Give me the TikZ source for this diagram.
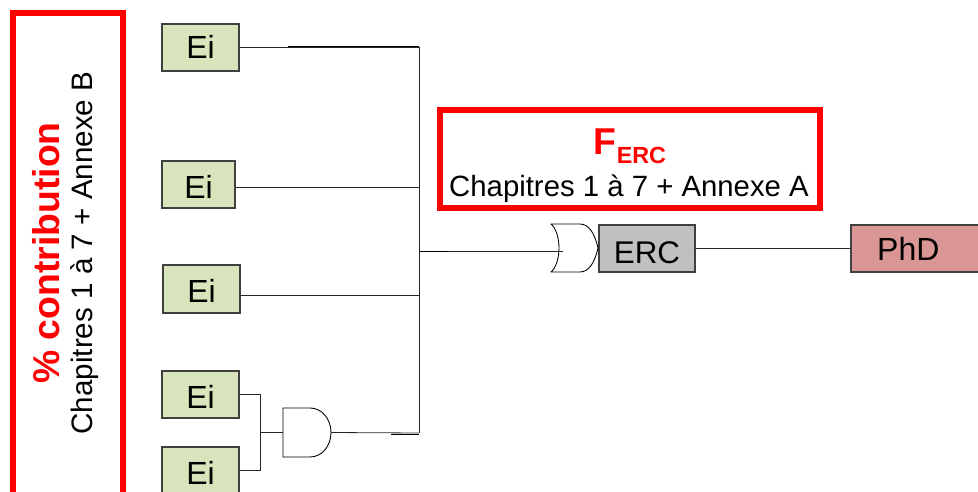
\documentclass[tikz,border=0pt]{standalone}
\usepackage{fontspec}
\setmainfont{Liberation Sans}
\tikzset{
  px/.style={x=0.75pt,y=-0.75pt},
  wire/.style={draw=black!85,line width=0.6pt},
  thickwire/.style={draw=black,line width=0.75pt},
  gate/.style={draw=black,line width=0.65pt,fill=white,line join=round},
  box/.style={draw=black!75,line width=0.8pt,inner sep=0pt,font=\fontsize{24}{28}\selectfont,text=black,anchor=center,text depth=0pt},
  ei/.style={box,fill=eigreen},
  redbox/.style={draw=red,line width=4.2pt,fill=white},
  lbl/.style={font=\fontsize{22}{26}\selectfont,inner sep=0pt,text=black},
  redlbl/.style={font=\fontsize{28}{32}\selectfont\bfseries,inner sep=0pt,text=red}
}
\definecolor{eigreen}{HTML}{D7E4BC}
\definecolor{ercgray}{HTML}{C0C0C0}
\definecolor{phdred}{HTML}{D99694}
\begin{document}
\begin{tikzpicture}[px]
\useasboundingbox (0,0) rectangle (978,492);
% red frames
\path[redbox] (13,13) rectangle (123,510);
\path[redbox] (440,110) rectangle (820,208);
\node[redlbl,rotate=90] (contrib) at (46,253) {\% contribution};
\node[lbl,font=\fontsize{22.2}{26}\selectfont,rotate=90] (chapB) at (85,253) {Chapitres 1 à 7 + Annexe B};
\node[redlbl] (ferc) at (630,146) {F\raisebox{-0.25em}{\fontsize{17.5}{20}\selectfont ERC}};
\node[lbl] (chapA) at (629,189) {Chapitres 1 à 7 + Annexe A};
% boxes
\node[ei,minimum width=77pt*0.75,minimum height=47pt*0.75,text height=17.25pt] (e1) at (200.5,47.5) {Ei};
\node[ei,minimum width=73pt*0.75,minimum height=47pt*0.75,text height=20.25pt] (e2) at (198.5,184.5) {Ei};
\node[ei,minimum width=77pt*0.75,minimum height=48pt*0.75,text height=19.5pt] (e3) at (201.5,289) {Ei};
\node[ei,minimum width=77pt*0.75,minimum height=47pt*0.75,text height=20.25pt] (e4) at (200.5,394.5) {Ei};
\node[ei,minimum width=77pt*0.75,minimum height=48pt*0.75,text height=19.5pt] (e5) at (200.5,471) {Ei};
\node[box,fill=ercgray,minimum width=96pt*0.75,minimum height=47pt*0.75,font=\fontsize{23.5}{28}\selectfont,text height=21.75pt] (erc) at (647,248.5) {ERC};
\node[box,fill=phdred,minimum width=128pt*0.75,minimum height=47pt*0.75] (phd) at (915,248.5) {PhD\hspace*{10pt}};
% junctions
\coordinate (busT) at (419,47);
\coordinate (busB) at (419,433);
\coordinate (bus2) at (419,187);
\coordinate (bus3) at (419,295);
\coordinate (busM) at (419,251);
\coordinate (t1) at (288,47);
\coordinate (t2) at (391,434);
\coordinate (t2e) at (419,434);
\coordinate (t3) at (448,251);
\coordinate (j4) at (260,394);
\coordinate (j5) at (260,470);
\coordinate (jm) at (260,432.5);
\coordinate (andin) at (283,432.5);
\coordinate (andout) at (331,432.5);
\coordinate (orin) at (563,251);
% gates
\draw[gate] (283,408) -- (310,408) .. controls (322,408) and (331,419) .. (andout) .. controls (331,446) and (322,457) .. (310,457) -- (283,457) -- cycle;
\draw[gate] (551,224) -- (580,224) .. controls (589,224) and (595,234) .. (598,248) .. controls (595,262) and (589,272) .. (580,272) -- (551,272) .. controls (556,268) and (559,258) .. (559,248) .. controls (559,238) and (556,228) .. (551,224) -- cycle;
% wires
\draw[wire] (e1.east|-busT) -- (busT) -- (busB);
\draw[wire] (e2.east|-bus2) -- (bus2);
\draw[wire] (e3.east|-bus3) -- (bus3);
\draw[wire] (busM) -- (orin);
\draw[wire] (andout) -- (busB);
\draw[wire] (e4.east|-j4) -- (j4) -- (j5) -- (e5.east|-j5);
\draw[wire] (jm) -- (andin);
\draw[wire] (erc.east) -- (phd.west);
\draw[thickwire] (t1) -- (busT);
\draw[thickwire] (t2) -- (t2e);
\draw[thickwire] (busM) -- (t3);
\end{tikzpicture}
\end{document}
